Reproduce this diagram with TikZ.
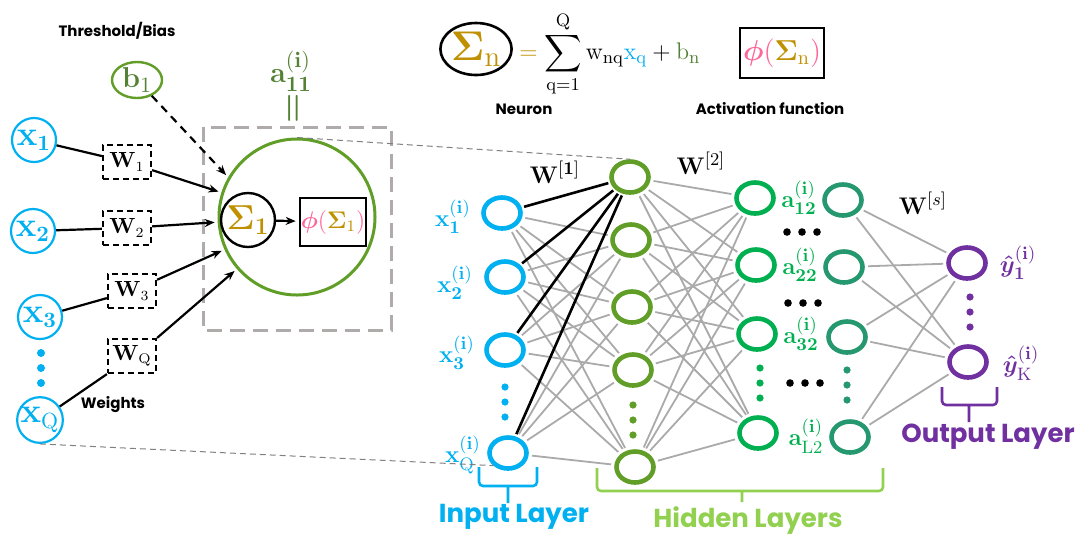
\documentclass[tikz,border=0pt]{standalone}
\usepackage{amsmath,amssymb}
\usepackage{bm}
\usepackage[no-math]{fontspec}
\usepackage{xcolor}
\usepackage{tikz}
\usetikzlibrary{arrows.meta,positioning,shapes.geometric}
\newfontfamily\lblfont{Poppins}

\definecolor{inputcol}{RGB}{0,176,240}
\definecolor{hacol}{RGB}{96,158,40}
\definecolor{hbcol}{RGB}{0,176,80}
\definecolor{hccol}{RGB}{38,152,112}
\definecolor{outcol}{RGB}{112,48,160}
\definecolor{btext}{RGB}{84,130,53}
\definecolor{goldc}{RGB}{191,144,0}
\definecolor{pinkc}{RGB}{255,102,153}
\definecolor{hidtext}{RGB}{146,208,80}
\definecolor{linkgray}{RGB}{170,170,170}
\definecolor{boxgray}{RGB}{175,171,171}

\begin{document}
\begin{tikzpicture}[x=0.5pt, y=-0.5pt,
    lbl/.style={font=\lblfont\bfseries\fontsize{7.5}{9}\selectfont},
    layerlbl/.style={font=\lblfont\bfseries\fontsize{13}{15}\selectfont},
    inpt/.style={circle, draw=inputcol, line width=1.1pt, minimum size=22pt, inner sep=0pt,
        text=inputcol, font=\fontsize{16}{18}\selectfont},
    wbox/.style={draw, dash pattern=on 3pt off 2pt, line width=1.1pt, minimum width=24pt,
        minimum height=17pt, inner sep=0pt, font=\fontsize{10.5}{12}\selectfont},
    neur/.style={ellipse, line width=2.3pt, minimum width=18.5pt, minimum height=15.5pt, inner sep=0pt},
    netlbl/.style={font=\fontsize{13}{15}\selectfont},
    wire/.style={linkgray, line width=0.9pt, shorten <=1.6pt, shorten >=1.6pt},
    bwire/.style={black, line width=1.3pt, shorten <=1pt, shorten >=1.2pt},
    arr/.style={-{Stealth[length=5pt,width=4pt]}, line width=1.1pt, shorten >=1.5pt},
    bracket/.style={line width=1.3pt, rounded corners=2pt},
    guide/.style={dash pattern=on 3pt off 2pt, gray, line width=0.5pt}]
    \useasboundingbox (0,0) rectangle (1080,543);

    % Single neuron (left)
    \node[lbl] (thr) at (117,31) {Threshold/Bias};
    \node[ellipse, draw=hacol, line width=1.2pt, minimum width=25pt, minimum height=18pt, inner sep=0pt,
        text=btext, font=\fontsize{15}{17}\selectfont] (b1) at (137,80) {$\mathbf{b}_1$};
    \node[text=btext, font=\fontsize{15}{17}\selectfont] (a11) at (291,71)
        {$\mathbf{a}^{\mathbf{(i)}}_{\mathbf{11}}$};
    \node[text=btext, rotate=90, font=\fontsize{16}{18}\selectfont] (eqv) at (295,108) {$\bm{=}$};

    \draw[boxgray, line width=1.5pt, dash pattern=on 7.5pt off 4pt] (203,127) rectangle (391,330);
    \node[circle, draw=hacol, line width=1.5pt, minimum size=78pt] (cell) at (297,217) {};
    \node[circle, draw, line width=1.2pt, minimum size=27pt, inner sep=0pt, text=goldc,
        font=\fontsize{18}{20}\selectfont] (sig1) at (248,220) {$\mathbf{\Sigma}_{\mathbf{1}}$};
    \node[draw, line width=1.3pt, minimum width=33pt, minimum height=24pt, inner sep=0pt,
        font=\fontsize{12}{14}\selectfont] (phi1) at (333,222)
        {$\textcolor{pinkc}{\bm{\phi}(}\textcolor{goldc}{\mathbf{\Sigma}_1}\textcolor{pinkc}{)}$};
    \draw[arr] (sig1) -- (phi1);

    % Inputs and weights
    \node[inpt] (x1) at (34,140) {$\mathbf{x}_{\mathbf{1}}$};
    \node[inpt] (x2) at (33,231) {$\mathbf{x}_{\mathbf{2}}$};
    \node[inpt] (x3) at (40,317) {$\mathbf{x}_{\mathbf{3}}$};
    \node[inpt] (xq) at (40,420) {$\mathbf{x}_{\mathrm{Q}}$};
    \foreach \y in {353,368,383} \fill[inputcol] (41,\y) circle (2pt);

    \node[wbox] (w1) at (127,162) {$\mathbf{W}_1$};
    \node[wbox] (w2) at (127,228) {$\mathbf{W}_2$};
    \node[wbox] (w3) at (132,291) {$\mathbf{W}_3$};
    \node[wbox] (wq) at (132,356) {$\mathbf{W}_{\mathrm{Q}}$};
    \node[lbl] (wts) at (113,405) {Weights};

    \draw[line width=1.1pt] (x1) -- (w1);
    \draw[line width=1.1pt] (x2) -- (w2);
    \draw[line width=1.1pt] (x3) -- (w3);
    \draw[line width=1.1pt] (xq) -- (wq.south west);
    \draw[arr] (w1) -- (cell);
    \draw[arr] (w2) -- (cell);
    \draw[arr] (w3) -- (cell);
    \draw[arr] (wq.north east) -- (cell);
    \draw[arr, dash pattern=on 4pt off 3pt] (b1) -- (cell.150);

    % Formula
    \node[ellipse, draw, line width=1.3pt, minimum width=33pt, minimum height=26pt, inner sep=0pt,
        text=goldc, font=\fontsize{20}{22}\selectfont] (sign) at (476,49) {$\mathbf{\Sigma}_{\mathrm{n}}$};
    \node[anchor=west, inner sep=0pt, font=\fontsize{13}{15}\selectfont] (sum) at (519,54)
        {$\displaystyle \mathrel{\textcolor{goldc}{=}} \sum_{\mathrm{q=1}}^{\mathrm{Q}}
        \mathrm{w}_{\mathrm{nq}}\textcolor{inputcol}{\mathrm{x}_{\mathrm{q}}}
        + \textcolor{btext}{\mathrm{b}_{\mathrm{n}}}$};
    \node[draw, line width=1.3pt, minimum width=42pt, minimum height=25pt, inner sep=0pt,
        font=\fontsize{14}{16}\selectfont] (phin) at (782,53)
        {$\textcolor{pinkc}{\bm{\phi}(}\textcolor{goldc}{\mathbf{\Sigma}_{\mathrm{n}}}\textcolor{pinkc}{)}$};
    \node[lbl] (neu) at (524,109) {Neuron};
    \node[lbl] (act) at (770,109) {Activation function};

    % Network layers
    \node[neur, draw=inputcol] (in1) at (502,213) {};
    \node[neur, draw=inputcol] (in2) at (505,277) {};
    \node[neur, draw=inputcol] (in3) at (505,350) {};
    \node[neur, draw=inputcol] (in4) at (508,453) {};

    \node[neur, draw=hacol] (ha1) at (630,177) {};
    \node[neur, draw=hacol] (ha2) at (631,240) {};
    \node[neur, draw=hacol] (ha3) at (632,307) {};
    \node[neur, draw=hacol] (ha4) at (633,370) {};
    \node[neur, draw=hacol] (ha5) at (635,467) {};

    \node[neur, draw=hbcol] (hb1) at (755,198) {};
    \node[neur, draw=hbcol] (hb2) at (756,265) {};
    \node[neur, draw=hbcol] (hb3) at (757,334) {};
    \node[neur, draw=hbcol] (hb4) at (758,433) {};

    \node[neur, draw=hccol] (hc1) at (843,200) {};
    \node[neur, draw=hccol] (hc2) at (844,267) {};
    \node[neur, draw=hccol] (hc3) at (847,337) {};
    \node[neur, draw=hccol] (hc4) at (850,437) {};

    \node[neur, draw=outcol] (out1) at (967,263) {};
    \node[neur, draw=outcol] (out2) at (968,362) {};

    % Connections
    \foreach \i in {1,...,4} \foreach \j in {2,...,5} \draw[wire] (in\i) -- (ha\j);
    \foreach \i in {1,...,5} \foreach \j in {1,...,4} \draw[wire] (ha\i) -- (hb\j);
    \foreach \i in {1,...,4} \foreach \j in {1,2} \draw[wire] (hc\i) -- (out\j);
    \foreach \i in {1,...,4} \draw[bwire] (ha1) -- (in\i);

    % Dots
    \foreach \y in {387,402,417} \fill[inputcol] (505,\y) circle (1.8pt);
    \foreach \y in {405,420,435} \fill[hacol] (633,\y) circle (1.8pt);
    \foreach \y in {368,383,398} \fill[hbcol] (760,\y) circle (1.8pt);
    \foreach \y in {370,385,400} \fill[hccol] (847,\y) circle (1.8pt);
    \foreach \y in {297,312,327} \fill[outcol] (970,\y) circle (1.8pt);
    \foreach \x in {787,802,817} {
        \fill (\x,232) circle (1.9pt);
        \fill (\x+1,303) circle (1.9pt);
        \fill (\x+3,383) circle (1.9pt);
    }

    % Labels
    \node[netlbl, text=inputcol] (lx1) at (453,217) {$\mathbf{x}^{\mathbf{(i)}}_{\mathbf{1}}$};
    \node[netlbl, text=inputcol] (lx2) at (455,283) {$\mathbf{x}^{\mathbf{(i)}}_{\mathbf{2}}$};
    \node[netlbl, text=inputcol] (lx3) at (457,353) {$\mathbf{x}^{\mathbf{(i)}}_{\mathbf{3}}$};
    \node[netlbl, text=inputcol] (lxq) at (463,455) {$\mathbf{x}^{\mathbf{(i)}}_{\mathrm{Q}}$};
    \node[netlbl, text=hbcol] (la12) at (799,198) {$\mathbf{a}^{\mathbf{(i)}}_{\mathbf{12}}$};
    \node[netlbl, text=hbcol] (la22) at (800,265) {$\mathbf{a}^{\mathbf{(i)}}_{\mathbf{22}}$};
    \node[netlbl, text=hbcol] (la32) at (801,334) {$\mathbf{a}^{\mathbf{(i)}}_{\mathbf{32}}$};
    \node[netlbl, text=hbcol] (lal2) at (806,436) {$\mathbf{a}^{\mathbf{(i)}}_{\mathrm{L2}}$};
    \node[netlbl, text=outcol] (ly1) at (1018,263) {$\bm{\hat{y}}^{\mathbf{(i)}}_{\mathbf{1}}$};
    \node[netlbl, text=outcol] (lyk) at (1021,363) {$\bm{\hat{y}}^{\mathbf{(i)}}_{\mathrm{K}}$};
    \node[netlbl] (lw1) at (555,172) {$\mathbf{W}^{[\mathbf{1}]}$};
    \node[netlbl] (lw2) at (701,163) {$\mathbf{W}^{[2]}$};
    \node[netlbl] (lws) at (923,203) {$\mathbf{W}^{[s]}$};

    % Guide lines
    \draw[guide] (cell.north) -- (ha1.north);
    \draw[guide] (xq.south) -- (in4.south west);

    % Brackets
    \draw[bracket, inputcol] (479,467) |- (537,486) -- (537,467) (508,486) -- (508,503);
    \draw[bracket, hidtext] (597,468) |- (883,491) -- (883,468) (742,491) -- (742,502);
    \draw[bracket, outcol] (942,387) |- (997,405) -- (997,387) (969,405) -- (969,422);
    \node[layerlbl, text=inputcol] (tin) at (514,517) {Input Layer};
    \node[layerlbl, text=hidtext] (thid) at (748,521) {Hidden Layers};
    \node[layerlbl, text=outcol] (tout) at (988,437) {Output Layer};
\end{tikzpicture}
\end{document}
